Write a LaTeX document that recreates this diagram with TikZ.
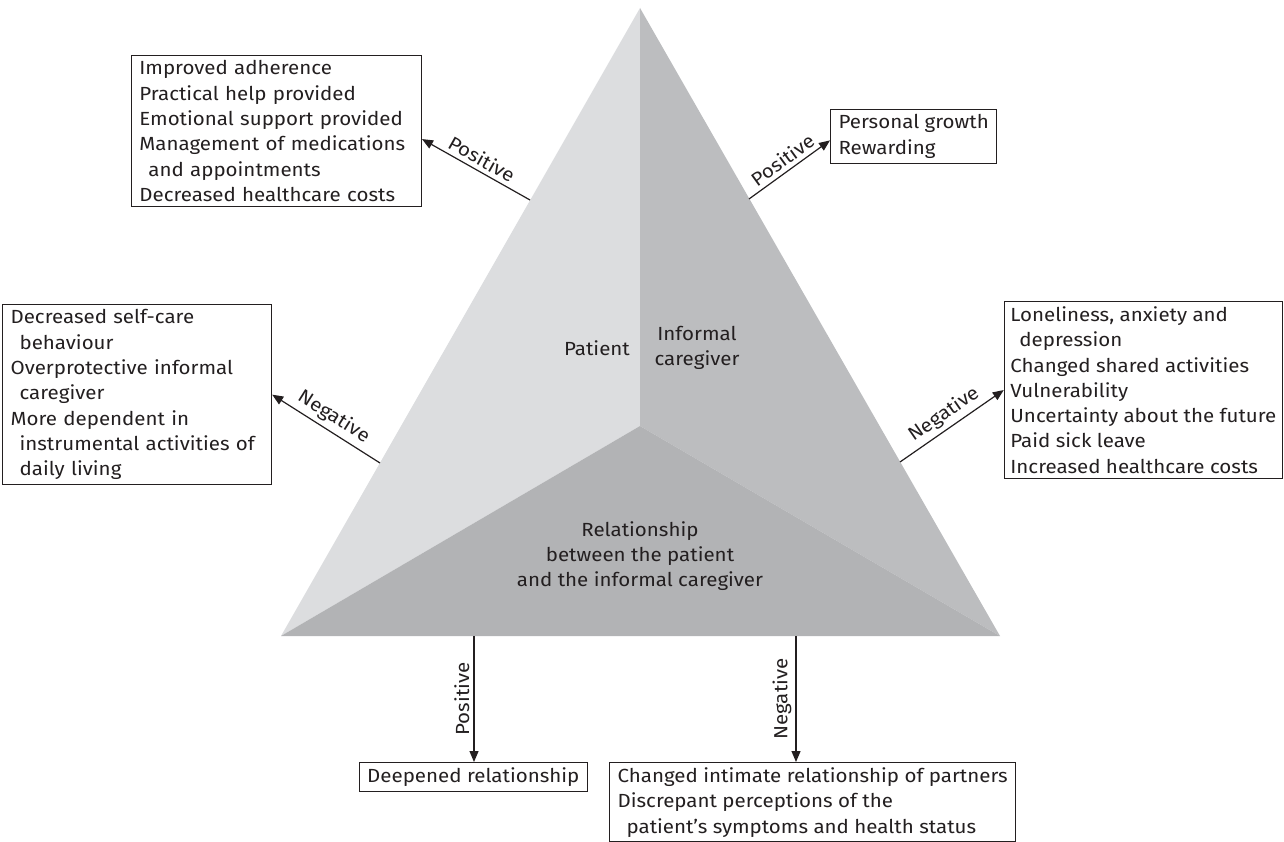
\documentclass[tikz,border=0pt]{standalone}
\usepackage{fontspec}
\setmainfont{Fira Sans}[FakeStretch=1.08]
\usetikzlibrary{arrows.meta,calc}
\definecolor{facetL}{HTML}{DCDDDF}
\definecolor{facetR}{HTML}{BCBDBF}
\definecolor{facetB}{HTML}{B2B3B5}
\definecolor{ink}{HTML}{231F20}
\begin{document}
\begin{tikzpicture}[x=1pt,y=-1pt,
  txt/.style={font=\fontsize{19}{25.3}\selectfont, text=ink},
  outbox/.style={draw=ink, line width=1.2pt, align=left, inner xsep=8pt, inner ysep=5pt, txt},
  link/.style={draw=ink, line width=1.2pt, -{Triangle[length=11pt,width=9pt]}},
  lab/.style={txt, inner sep=4pt}]
\useasboundingbox (0,0) rectangle (1284,842);

% pyramid
\coordinate (apex) at (640,8);
\coordinate (bl) at (281,636);
\coordinate (br) at (1000,636);
\coordinate (ctr) at (640,426);
\fill[facetL] (apex) -- (ctr) -- (bl) -- cycle;
\fill[facetR] (apex) -- (br) -- (ctr) -- cycle;
\fill[facetB] (bl) -- (ctr) -- (br) -- cycle;

\node[txt] (patient) at (597,348) {Patient};
\node[txt, align=center] (caregiver) at (697,348) {Informal\\caregiver};
\node[txt, align=center] (rel) at (640,556) {Relationship\\between the patient\\and the informal caregiver};

% boxes
\node[outbox, text width=274pt, anchor=north east] (tl) at (422,55) {Improved adherence\\Practical help provided\\Emotional support provided\\Management of medications\\\hspace*{9pt}and appointments\\Decreased healthcare costs};
\node[outbox, anchor=north west] (tr) at (830,109) {Personal growth\\Rewarding};
\node[outbox, text width=253pt, anchor=north west] (lb) at (2,304) {Decreased self-care\\\hspace*{9pt}behaviour\\Overprotective informal\\\hspace*{9pt}caregiver\\More dependent in\\\hspace*{9pt}instrumental activities of\\\hspace*{9pt}daily living};
\node[outbox, inner xsep=6pt, anchor=north east] (rb) at (1283,301) {Loneliness, anxiety and\\\hspace*{9pt}depression\\Changed shared activities\\Vulnerability\\Uncertainty about the future\\Paid sick leave\\Increased healthcare costs};
\node[outbox, anchor=north east] (dr) at (588,762) {Deepened relationship};
\node[outbox, anchor=north west] (cr) at (609,762) {Changed intimate relationship of partners\\Discrepant perceptions of the\\\hspace*{9pt}patient's symptoms and health status};

% arrow starts on the pyramid
\coordinate (s1) at (530,200);
\coordinate (s2) at (749,199);
\coordinate (s3) at (380,463);
\coordinate (s4) at (900,462);
\coordinate (s5) at (474,636);
\coordinate (s6) at (796,636);

\draw[link] (s1) -- ([yshift=-8pt]tl.east) node[lab, midway, above, sloped] {Positive};
\draw[link] (s2) -- ([yshift=-4pt]tr.west) node[lab, midway, above, sloped] {Positive};
\draw[link] (s3) -- (lb.east) node[lab, midway, above, sloped] {Negative};
\draw[link] (s4) -- (rb.west) node[lab, midway, above, sloped] {Negative};
\draw[link] (s5) -- (s5 |- dr.north) node[lab, midway, rotate=90, anchor=south] {Positive};
\draw[link] (s6) -- (s6 |- cr.north) node[lab, midway, rotate=90, anchor=south] {Negative};
\end{tikzpicture}
\end{document}
